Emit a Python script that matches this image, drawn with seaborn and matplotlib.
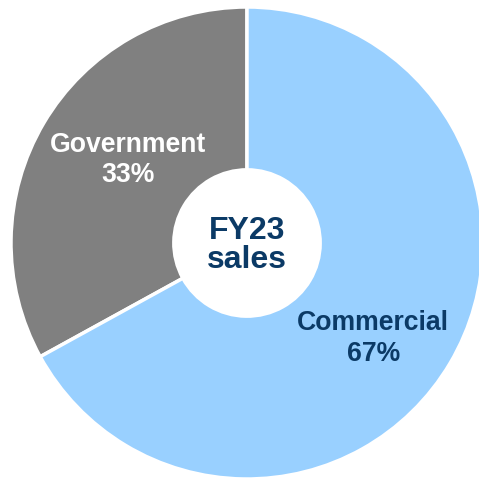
import matplotlib
matplotlib.use("Agg")
import matplotlib.pyplot as plt
import seaborn as sns

categories = ["Government", "Commercial"]
shares = [33, 67]
colors = ["#808080", "#99D0FF"]
center_title = "FY23\nsales"

sns.set_theme(style="white")
plt.rcParams["font.family"] = ["Liberation Sans", "DejaVu Sans"]

W, H = 479, 478
fig = plt.figure(figsize=(W / 100, H / 100), dpi=100)
cx, cy, R = 247, 243, 236
ax = fig.add_axes([(cx - R) / W, (H - cy - R) / H, 2 * R / W, 2 * R / H])

wedges, _ = ax.pie(
    shares,
    colors=colors,
    startangle=90,
    counterclock=True,
    radius=1.0,
    wedgeprops=dict(width=0.69, edgecolor="white", linewidth=2.5),
)
ax.set_xlim(-1, 1)
ax.set_ylim(-1, 1)
ax.set_aspect("equal")
ax.axis("off")

label_pos = {"Government": (-0.505, 0.352), "Commercial": (0.535, -0.405)}
label_color = {"Government": "white", "Commercial": "#0B3A66"}
for cat, val in zip(categories, shares):
    x, y = label_pos[cat]
    ax.text(x, y, f"{cat}\n{val}%", ha="center", va="center", fontsize=19.2,
            fontweight="bold", color=label_color[cat], linespacing=1.22)

ax.text(0, -0.01, center_title, ha="center", va="center", fontsize=23,
        fontweight="bold", color="#0B3A66", linespacing=0.97)

fig.savefig("out.png", dpi=100)
